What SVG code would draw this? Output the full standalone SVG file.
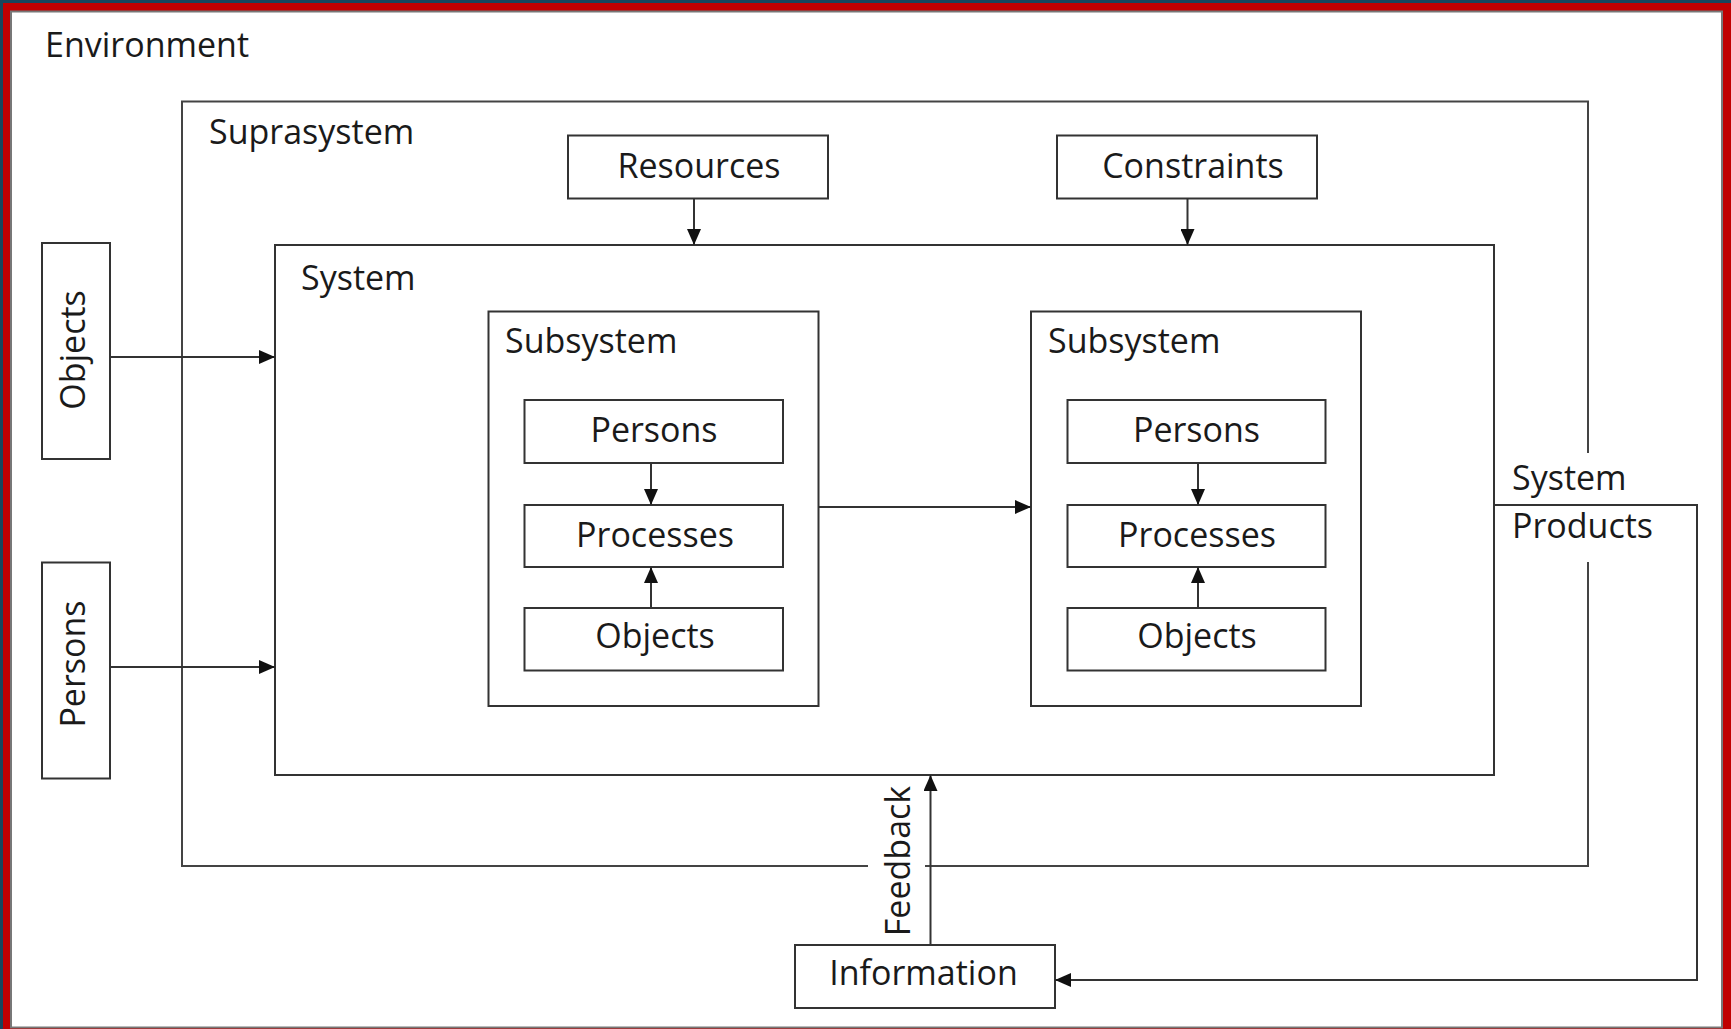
<svg xmlns="http://www.w3.org/2000/svg" width="1731" height="1029" viewBox="0 0 1731 1029">
  <style>
    .box { fill: #fff; stroke: #333; stroke-width: 2; }
    .frame { fill: none; stroke: #444; stroke-width: 2; }
    .conn { fill: none; stroke: #333; stroke-width: 2; }
    .lbl { font-family: "Open Sans", "Liberation Sans", sans-serif; font-size: 34px; fill: #1a1a1a; }
    .mid { text-anchor: middle; }
  </style>
  <defs>
    <marker id="ah" markerUnits="userSpaceOnUse" markerWidth="16" markerHeight="14" refX="15" refY="7" orient="auto">
      <path d="M0,0 L16,7 L0,14 z" fill="#111"/>
    </marker>
  </defs>

  <!-- outer frame -->
  <rect x="0" y="0" width="1731" height="1029" fill="#17465c"/>
  <rect x="3" y="3" width="1728" height="1030" fill="#c00000"/>
  <rect x="11" y="11.5" width="1711" height="1016" fill="#fff" stroke="#777" stroke-width="2"/>

  <g id="environment">
    <text class="lbl" x="45" y="57">Environment</text>
  </g>

  <g id="suprasystem">
    <path class="frame" d="M868,866 L182,866 L182,101.5 L1588,101.5 L1588,453 M1588,562 L1588,866 L925,866"/>
    <text class="lbl" x="209" y="144">Suprasystem</text>
  </g>

  <g id="resources">
    <rect class="box" x="568" y="135.5" width="260" height="63"/>
    <text class="lbl mid" x="699" y="178">Resources</text>
  </g>

  <g id="constraints">
    <rect class="box" x="1057" y="135.5" width="260" height="63"/>
    <text class="lbl mid" x="1193" y="178">Constraints</text>
  </g>

  <g id="system">
    <rect class="box" x="275" y="245" width="1219" height="530"/>
    <text class="lbl" x="301" y="290">System</text>
  </g>

  <g id="subsystem1">
    <rect class="box" x="488.5" y="311.5" width="330" height="394.5"/>
    <text class="lbl" x="505" y="353">Subsystem</text>
  </g>
  <g id="persons1">
    <rect class="box" x="524.5" y="400" width="258.5" height="63"/>
    <text class="lbl mid" x="654" y="442">Persons</text>
  </g>
  <g id="processes1">
    <rect class="box" x="524.5" y="505" width="258.5" height="62"/>
    <text class="lbl mid" x="655" y="547">Processes</text>
  </g>
  <g id="objects1">
    <rect class="box" x="524.5" y="608" width="258.5" height="62.5"/>
    <text class="lbl mid" x="655" y="648">Objects</text>
  </g>

  <g id="subsystem2">
    <rect class="box" x="1031" y="311.5" width="330" height="394.5"/>
    <text class="lbl" x="1048" y="353">Subsystem</text>
  </g>
  <g id="persons2">
    <rect class="box" x="1067.5" y="400" width="258" height="63"/>
    <text class="lbl mid" x="1196.5" y="442">Persons</text>
  </g>
  <g id="processes2">
    <rect class="box" x="1067.5" y="505" width="258" height="62"/>
    <text class="lbl mid" x="1197" y="547">Processes</text>
  </g>
  <g id="objects2">
    <rect class="box" x="1067.5" y="608" width="258" height="62.5"/>
    <text class="lbl mid" x="1197" y="648">Objects</text>
  </g>

  <g id="objects-env">
    <rect class="box" x="42" y="243" width="68" height="216"/>
    <text class="lbl mid" transform="translate(85,350) rotate(-90)">Objects</text>
  </g>
  <g id="persons-env">
    <rect class="box" x="42" y="562.5" width="68" height="216"/>
    <text class="lbl mid" transform="translate(85,664) rotate(-90)">Persons</text>
  </g>

  <g id="information">
    <rect class="box" x="795" y="945" width="260" height="63"/>
    <text class="lbl mid" x="923.5" y="985">Information</text>
  </g>

  <g id="connectors">
    <line class="conn" x1="694" y1="198.5" x2="694" y2="244" marker-end="url(#ah)"/>
    <line class="conn" x1="1187.5" y1="198.5" x2="1187.5" y2="244" marker-end="url(#ah)"/>
    <line class="conn" x1="110" y1="357" x2="274" y2="357" marker-end="url(#ah)"/>
    <line class="conn" x1="110" y1="667" x2="274" y2="667" marker-end="url(#ah)"/>
    <line class="conn" x1="651" y1="463" x2="651" y2="504" marker-end="url(#ah)"/>
    <line class="conn" x1="651" y1="608" x2="651" y2="568" marker-end="url(#ah)"/>
    <line class="conn" x1="1198" y1="463" x2="1198" y2="504" marker-end="url(#ah)"/>
    <line class="conn" x1="1198" y1="608" x2="1198" y2="568" marker-end="url(#ah)"/>
    <line class="conn" x1="818.5" y1="507" x2="1030" y2="507" marker-end="url(#ah)"/>
    <path class="conn" d="M1494,505 L1697,505 L1697,980 L1056,980" marker-end="url(#ah)"/>
    <text class="lbl" x="1512" y="490">System</text>
    <text class="lbl" x="1512" y="538">Products</text>
    <line class="conn" x1="930.5" y1="945" x2="930.5" y2="776" marker-end="url(#ah)"/>
    <text class="lbl mid" transform="translate(910,861) rotate(-90)">Feedback</text>
  </g>
</svg>
